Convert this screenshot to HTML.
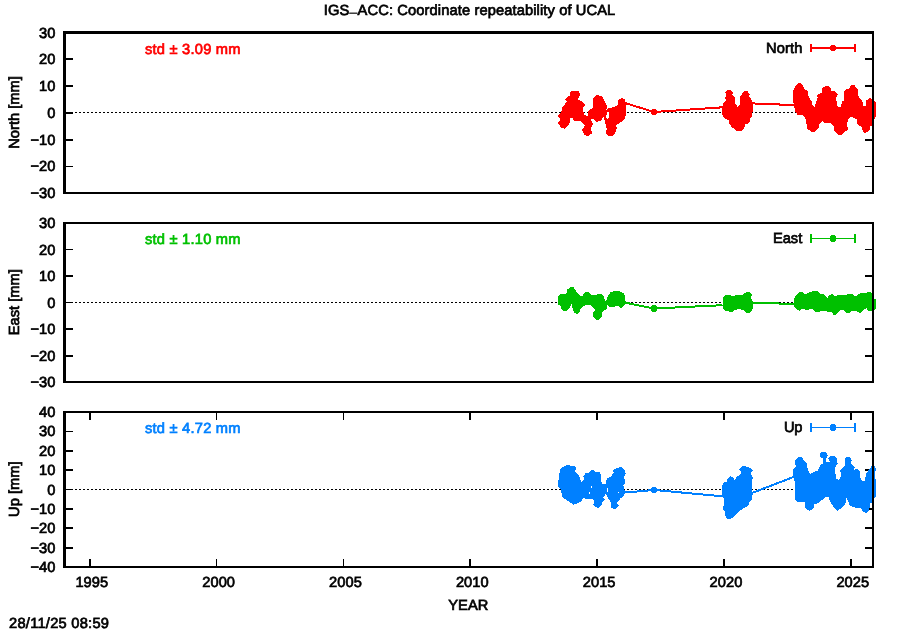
<!DOCTYPE html>
<html><head><meta charset="utf-8"><title>IGS-ACC: Coordinate repeatability of UCAL</title>
<style>
html,body{margin:0;padding:0;background:#fff;}
svg{display:block;will-change:transform}
text{font-family:"Liberation Sans",sans-serif;font-size:14.67px;fill:#000;stroke:#000;stroke-width:0.7px;text-rendering:geometricPrecision}
.c{shape-rendering:crispEdges}
</style></head><body>
<svg width="900" height="630" viewBox="0 0 900 630">
<rect width="900" height="630" fill="#fff"/>
<text x="469.5" y="15.3" text-anchor="middle" textLength="291.5" lengthAdjust="spacing">IGS<tspan dy="1.2" style="stroke-width:0.2px">–</tspan><tspan dy="-1.2">ACC: Coordinate repeatability of UCAL</tspan></text>
<g id="panel1">
<rect class="c" x="66" y="58" width="7" height="2" fill="#000"/><rect class="c" x="865" y="58" width="7" height="2" fill="#000"/>
<rect class="c" x="66" y="85" width="7" height="2" fill="#000"/><rect class="c" x="865" y="85" width="7" height="2" fill="#000"/>
<rect class="c" x="66" y="112" width="7" height="2" fill="#000"/><rect class="c" x="865" y="112" width="7" height="2" fill="#000"/>
<rect class="c" x="66" y="139" width="7" height="2" fill="#000"/><rect class="c" x="865" y="139" width="7" height="2" fill="#000"/>
<rect class="c" x="66" y="166" width="7" height="1" fill="#000"/><rect class="c" x="865" y="166" width="7" height="1" fill="#000"/>
<line class="c" x1="75" x2="873.0" y1="112.5" y2="112.5" stroke="#000" stroke-width="1" stroke-dasharray="2 2"/>
<polyline class="c" points="625.6,103.2 654.0,112.0 722.5,107.3" fill="none" stroke="#ff0000" stroke-width="2"/>
<polyline class="c" points="752.5,103.4 794.0,105.1" fill="none" stroke="#ff0000" stroke-width="2"/>
<polygon class="c" points="571.2,91.3 578.6,91.3 580.1,94.6 578.1,99.4 582.9,102.0 585.0,105.1 582.5,108.1 584.3,115.1 587.8,116.0 587.8,111.2 592.6,108.1 593.0,98.1 596.5,95.0 601.3,95.9 603.7,99.0 606.8,105.1 606.8,109.0 605.5,110.8 608.1,108.6 615.1,106.4 618.1,104.7 618.1,100.3 621.6,98.1 624.7,99.4 625.6,102.0 626.0,106.0 625.6,110.3 626.0,114.7 624.3,119.5 619.0,123.4 616.0,125.2 616.8,127.8 615.1,133.0 612.0,136.1 608.1,135.7 605.9,133.0 606.8,128.7 605.9,125.2 604.2,118.2 603.3,117.3 600.2,121.2 596.7,121.7 593.4,118.6 590.8,119.1 593.0,124.3 590.8,127.8 592.1,133.0 588.6,136.1 584.7,135.2 583.0,132.2 582.1,129.5 585.1,125.6 580.8,120.8 573.8,120.8 572.5,118.2 569.8,118.6 569.4,124.7 565.0,128.7 561.5,128.2 558.0,123.0 560.2,119.5 558.0,116.0 561.5,111.2 562.0,107.7 564.2,105.1 567.2,101.2 565.0,99.8 567.2,97.2 570.7,95.0 569.8,93.3" fill="#ff0000"/>
<polygon class="c" points="727.2,90.1 731.2,90.1 732.9,92.9 732.0,94.6 734.7,97.2 734.7,103.3 736.0,104.2 737.3,106.8 739.9,104.2 740.3,96.4 743.4,91.6 747.3,91.1 749.9,94.2 748.6,95.9 752.1,100.3 753.0,105.1 752.7,111.2 751.7,117.3 749.9,118.6 749.9,121.7 747.8,123.9 745.1,124.3 744.3,127.8 742.1,130.9 736.4,130.9 731.6,126.9 729.0,123.0 728.5,120.4 723.3,117.3 722.0,112.9 722.2,107.3 723.3,102.9 726.4,100.3 725.0,97.7 726.8,95.0 725.0,92.9" fill="#ff0000"/>
<polygon class="c" points="795.5,112.1 793.9,105.9 792.9,99.2 792.9,91.5 795.5,85.8 799.1,82.7 801.6,83.8 804.2,88.4 807.8,91.5 808.9,97.7 812.0,101.8 812.0,104.9 814.5,107.0 817.6,98.2 817.3,95.1 822.3,92.5 822.3,88.4 825.4,85.8 829.3,86.3 830.8,88.4 831.1,91.5 834.7,91.0 837.8,94.4 836.1,97.2 837.0,104.9 838.4,107.0 841.0,106.4 842.0,101.3 844.1,100.8 844.1,91.0 846.1,88.9 849.2,88.4 850.8,85.3 854.4,85.3 858.0,89.9 858.5,96.1 862.6,101.8 863.4,105.9 865.7,106.4 866.2,100.3 869.8,98.2 873.5,99.2 875.7,102.8 876.0,115.2 875.0,118.8 873.0,118.8 873.0,118.8 872.6,125.5 870.4,126.0 870.4,129.1 867.8,132.2 864.7,132.7 862.6,130.7 861.6,127.1 857.5,124.0 856.4,118.8 853.4,118.3 851.8,116.8 849.2,117.8 847.2,122.4 847.7,129.6 841.5,134.8 837.8,134.8 833.7,130.7 833.7,126.5 830.3,122.9 825.4,123.5 822.3,120.9 819.7,123.5 818.7,127.6 815.0,131.7 811.4,131.7 807.3,128.6 805.8,119.8 803.7,115.7 797.5,114.7" fill="#ff0000"/>
<polygon class="c" points="606.6,112.5 609.2,112.0 609.4,116.0 608.0,119.5 606.4,118.0" fill="#fff"/>
<polygon class="c" points="652.3,109.0 655.7,109.0 657.0,110.3 657.0,113.7 655.7,115.0 652.3,115.0 651.0,113.7 651.0,110.3" fill="#ff0000"/>
<rect class="c" x="63" y="31" width="3" height="163" fill="#000"/><rect class="c" x="872" y="31" width="2" height="163" fill="#000"/><rect class="c" x="63" y="31" width="811" height="3" fill="#000"/><rect class="c" x="63" y="192" width="811" height="2" fill="#000"/>
<text x="55.3" y="38.3" text-anchor="end">30</text><text x="55.3" y="64.3" text-anchor="end">20</text><text x="55.3" y="91.3" text-anchor="end">10</text><text x="55.3" y="118.3" text-anchor="end">0</text><text x="55.3" y="145.3" text-anchor="end">−10</text><text x="55.3" y="171.3" text-anchor="end">−20</text><text x="55.3" y="198.3" text-anchor="end">−30</text>
<text transform="translate(19.4,112.5) rotate(-90)" text-anchor="middle">North [mm]</text>
<text x="145" y="54.3" style="fill:#ff0000;stroke:#ff0000" textLength="95.5" lengthAdjust="spacing">std ± 3.09 mm</text>
<text x="802.3" y="53.3" text-anchor="end" textLength="36.2" lengthAdjust="spacing">North</text>
<rect class="c" x="810" y="47" width="46" height="2" fill="#ff0000"/><rect class="c" x="810" y="44" width="2" height="8" fill="#ff0000"/><rect class="c" x="854" y="44" width="2" height="8" fill="#ff0000"/><polygon class="c" points="831.3,45.0 834.7,45.0 836.0,46.3 836.0,49.7 834.7,51.0 831.3,51.0 830.0,49.7 830.0,46.3" fill="#ff0000"/>
</g>
<g id="panel2">
<rect class="c" x="66" y="249" width="7" height="1" fill="#000"/><rect class="c" x="865" y="249" width="7" height="1" fill="#000"/>
<rect class="c" x="66" y="275" width="7" height="2" fill="#000"/><rect class="c" x="865" y="275" width="7" height="2" fill="#000"/>
<rect class="c" x="66" y="302" width="7" height="1" fill="#000"/><rect class="c" x="865" y="302" width="7" height="1" fill="#000"/>
<rect class="c" x="66" y="328" width="7" height="2" fill="#000"/><rect class="c" x="865" y="328" width="7" height="2" fill="#000"/>
<rect class="c" x="66" y="355" width="7" height="2" fill="#000"/><rect class="c" x="865" y="355" width="7" height="2" fill="#000"/>
<line class="c" x1="75" x2="873.0" y1="302.5" y2="302.5" stroke="#000" stroke-width="1" stroke-dasharray="2 2"/>
<polyline class="c" points="625.0,302.6 654.0,308.5 722.5,305.2" fill="none" stroke="#00c000" stroke-width="2"/>
<polyline class="c" points="752.5,302.7 794.5,304.0" fill="none" stroke="#00c000" stroke-width="2"/>
<polygon class="c" points="558.0,296.5 561.0,294.0 565.0,294.0 567.0,292.5 567.5,289.5 570.5,287.0 573.5,287.5 576.0,290.5 576.5,292.5 581.0,296.0 582.5,296.0 584.5,292.5 588.5,292.2 591.0,295.0 596.5,295.0 598.0,294.0 601.0,294.0 604.0,296.5 605.0,301.0 606.5,300.0 607.5,296.5 610.5,292.5 614.0,291.0 619.0,291.0 623.5,293.0 625.0,295.5 625.0,301.0 627.5,303.0 624.0,305.0 622.0,307.5 620.0,307.5 618.0,305.5 614.0,307.0 609.0,306.5 607.0,305.0 606.5,309.0 602.5,312.0 602.0,316.0 599.0,319.5 596.0,319.5 593.0,316.0 593.0,312.5 595.0,310.5 594.0,308.0 590.0,305.0 586.5,305.0 583.5,306.0 580.0,309.5 579.5,312.5 577.5,313.8 574.5,313.0 573.0,310.0 571.5,304.0 569.5,308.0 566.5,311.0 563.5,310.8 561.0,308.5 560.5,306.0 558.0,304.5" fill="#00c000"/>
<polygon class="c" points="722.5,304.0 723.0,298.0 725.0,295.5 729.5,295.0 732.5,296.5 735.5,295.0 739.0,295.5 743.0,294.5 746.0,292.2 750.0,292.2 752.0,294.5 750.5,297.5 753.0,301.5 753.0,307.5 751.5,310.5 749.5,312.8 746.0,312.8 743.5,310.0 739.0,309.0 735.0,310.0 732.5,311.8 729.5,311.8 728.0,310.5 724.5,310.5 722.5,308.5" fill="#00c000"/>
<polygon class="c" points="794.0,304.0 794.2,298.5 796.5,295.0 799.5,292.0 802.5,292.0 804.5,294.5 808.0,293.0 813.5,291.0 817.5,291.2 820.0,293.5 824.0,294.0 827.5,298.0 829.5,295.0 832.5,294.0 835.0,296.0 838.0,295.0 846.0,295.0 848.0,294.0 852.5,294.0 855.5,296.5 860.0,293.2 866.0,293.2 868.5,292.0 871.0,292.2 872.5,295.0 874.5,298.5 876.0,300.0 876.0,308.5 874.5,309.5 872.0,310.5 868.0,310.5 866.5,308.0 863.5,309.5 861.0,312.5 859.0,312.8 856.5,311.0 851.0,311.5 849.5,312.8 846.5,312.8 843.0,310.0 841.5,309.5 839.0,311.5 836.0,314.5 833.5,314.8 831.0,311.5 826.5,311.5 824.0,310.5 820.0,311.5 814.5,311.5 811.5,308.5 808.5,309.5 805.0,309.5 802.5,308.5 799.5,310.5 797.5,310.2 794.0,307.0" fill="#00c000"/>
<polygon class="c" points="652.3,305.0 655.7,305.0 657.0,306.3 657.0,310.7 655.7,312.0 652.3,312.0 651.0,310.7 651.0,306.3" fill="#00c000"/>
<rect class="c" x="63" y="222" width="3" height="161" fill="#000"/><rect class="c" x="872" y="222" width="2" height="161" fill="#000"/><rect class="c" x="63" y="222" width="811" height="2" fill="#000"/><rect class="c" x="63" y="381" width="811" height="2" fill="#000"/>
<text x="55.3" y="228.3" text-anchor="end">30</text><text x="55.3" y="255.3" text-anchor="end">20</text><text x="55.3" y="281.3" text-anchor="end">10</text><text x="55.3" y="308.3" text-anchor="end">0</text><text x="55.3" y="334.3" text-anchor="end">−10</text><text x="55.3" y="361.3" text-anchor="end">−20</text><text x="55.3" y="387.3" text-anchor="end">−30</text>
<text transform="translate(19.4,302.2) rotate(-90)" text-anchor="middle">East [mm]</text>
<text x="145" y="244.3" style="fill:#00c000;stroke:#00c000" textLength="95.5" lengthAdjust="spacing">std ± 1.10 mm</text>
<text x="802.3" y="243.3" text-anchor="end" textLength="29.4" lengthAdjust="spacing">East</text>
<rect class="c" x="810" y="238" width="46" height="1" fill="#00c000"/><rect class="c" x="810" y="234" width="2" height="9" fill="#00c000"/><rect class="c" x="854" y="234" width="2" height="9" fill="#00c000"/><polygon class="c" points="831.3,235.0 834.7,235.0 836.0,236.3 836.0,240.7 834.7,242.0 831.3,242.0 830.0,240.7 830.0,236.3" fill="#00c000"/>
</g>
<g id="panel3">
<rect class="c" x="66" y="431" width="7" height="1" fill="#000"/><rect class="c" x="865" y="431" width="7" height="1" fill="#000"/>
<rect class="c" x="66" y="450" width="7" height="2" fill="#000"/><rect class="c" x="865" y="450" width="7" height="2" fill="#000"/>
<rect class="c" x="66" y="469" width="7" height="2" fill="#000"/><rect class="c" x="865" y="469" width="7" height="2" fill="#000"/>
<rect class="c" x="66" y="489" width="7" height="1" fill="#000"/><rect class="c" x="865" y="489" width="7" height="1" fill="#000"/>
<rect class="c" x="66" y="508" width="7" height="2" fill="#000"/><rect class="c" x="865" y="508" width="7" height="2" fill="#000"/>
<rect class="c" x="66" y="527" width="7" height="2" fill="#000"/><rect class="c" x="865" y="527" width="7" height="2" fill="#000"/>
<rect class="c" x="66" y="547" width="7" height="2" fill="#000"/><rect class="c" x="865" y="547" width="7" height="2" fill="#000"/>
<rect class="c" x="89" y="413" width="2" height="7" fill="#000"/><rect class="c" x="89" y="559" width="2" height="7" fill="#000"/>
<rect class="c" x="216" y="413" width="1" height="7" fill="#000"/><rect class="c" x="216" y="559" width="1" height="7" fill="#000"/>
<rect class="c" x="343" y="413" width="1" height="7" fill="#000"/><rect class="c" x="343" y="559" width="1" height="7" fill="#000"/>
<rect class="c" x="469" y="413" width="2" height="7" fill="#000"/><rect class="c" x="469" y="559" width="2" height="7" fill="#000"/>
<rect class="c" x="596" y="413" width="2" height="7" fill="#000"/><rect class="c" x="596" y="559" width="2" height="7" fill="#000"/>
<rect class="c" x="723" y="413" width="2" height="7" fill="#000"/><rect class="c" x="723" y="559" width="2" height="7" fill="#000"/>
<rect class="c" x="850" y="413" width="2" height="7" fill="#000"/><rect class="c" x="850" y="559" width="2" height="7" fill="#000"/>
<line class="c" x1="75" x2="873.0" y1="489.5" y2="489.5" stroke="#000" stroke-width="1" stroke-dasharray="2 2"/>
<polyline class="c" points="624.0,492.6 654.0,490.0 723.0,496.3" fill="none" stroke="#0080ff" stroke-width="2"/>
<polyline class="c" points="752.0,493.0 794.5,476.6" fill="none" stroke="#0080ff" stroke-width="2"/>
<polygon class="c" points="558.0,485.6 558.9,476.7 560.0,470.0 563.3,466.7 567.2,465.0 574.4,466.1 576.7,468.9 575.0,471.1 578.9,475.6 580.6,480.0 580.6,482.8 584.4,479.4 583.3,476.1 585.6,473.3 588.9,472.8 591.7,470.2 594.4,470.6 596.1,472.2 599.4,472.2 601.7,475.0 600.6,477.8 601.7,483.3 605.6,484.4 606.7,478.9 610.6,476.7 613.9,472.8 612.8,470.6 616.7,467.8 621.7,467.2 625.0,470.0 625.6,473.9 623.9,476.7 625.6,482.2 623.3,485.6 625.0,491.7 623.9,495.6 620.6,498.3 616.7,503.3 618.9,505.6 616.7,508.3 613.9,509.8 610.6,506.7 611.7,503.9 609.4,500.0 605.6,493.9 603.3,497.8 605.0,500.0 602.2,502.2 601.7,505.0 598.3,507.8 595.0,507.2 593.3,504.4 594.4,501.1 592.8,499.4 586.7,498.9 582.8,497.8 582.2,500.6 576.7,503.9 573.3,504.8 569.4,501.7 565.6,499.4 562.2,496.7 561.1,490.0 558.3,487.2" fill="#0080ff"/>
<polygon class="c" points="722.2,485.0 724.4,482.2 727.2,481.7 727.2,478.9 730.0,476.3 732.8,477.2 734.4,480.0 736.7,477.2 741.7,472.8 739.4,469.4 742.8,466.1 748.9,467.0 752.8,470.6 750.6,473.3 752.8,477.2 751.7,485.0 752.8,493.9 751.7,499.4 748.9,502.8 748.3,505.6 743.3,508.3 738.3,512.2 735.0,516.1 730.6,518.9 727.2,518.6 725.0,515.6 725.6,511.7 723.3,509.4 723.9,499.4 722.2,493.9" fill="#0080ff"/>
<polygon class="c" points="795.1,499.8 795.1,483.1 793.3,477.1 793.3,469.4 795.7,467.0 795.1,460.5 798.7,456.9 801.7,457.5 806.4,462.9 807.6,468.8 810.0,474.2 813.0,472.4 817.7,470.6 820.1,465.2 823.1,463.5 823.1,458.7 819.9,456.3 820.4,453.4 822.0,452.1 825.2,452.1 827.0,453.4 827.8,456.0 825.9,458.7 825.5,461.7 830.2,461.7 827.9,458.7 831.4,455.5 834.3,455.5 836.9,458.7 837.6,464.0 835.2,467.0 835.7,478.0 839.0,480.4 841.2,476.0 840.2,470.6 844.3,466.4 845.5,462.9 844.3,459.9 846.7,456.9 850.2,457.1 852.0,460.5 850.8,462.9 855.0,467.6 853.2,470.0 856.8,468.8 859.8,471.8 859.8,476.5 862.1,480.7 864.5,480.7 866.3,473.6 869.9,468.2 871.7,466.2 875.2,466.4 875.8,470.0 874.6,473.0 875.8,480.7 875.8,496.2 874.0,498.6 874.0,498.6 872.9,502.1 869.9,503.3 869.3,510.5 866.3,512.9 862.7,511.7 861.0,508.1 855.0,507.5 849.6,505.7 848.5,502.1 846.7,497.4 845.3,503.8 842.0,508.1 837.2,510.7 833.7,506.9 830.2,501.8 828.5,496.8 824.9,497.4 818.3,503.3 814.2,503.9 814.2,506.9 811.8,510.2 808.8,510.7 805.2,507.5 804.6,502.1 797.5,501.5" fill="#0080ff"/>
<polygon class="c" points="590.6,485.8 591.8,485.8 591.8,488.2 590.6,488.2" fill="#fff"/>
<polygon class="c" points="589.0,492.0 590.2,492.0 590.2,493.6 589.0,493.6" fill="#fff"/>
<polygon class="c" points="606.7,487.5 607.9,487.5 607.9,491.5 606.7,491.5" fill="#fff"/>
<polygon class="c" points="617.8,491.6 619.0,491.6 619.0,493.0 617.8,493.0" fill="#fff"/>
<polygon class="c" points="652.3,487.0 655.7,487.0 657.0,488.3 657.0,491.7 655.7,493.0 652.3,493.0 651.0,491.7 651.0,488.3" fill="#0080ff"/>
<rect class="c" x="63" y="411" width="3" height="157" fill="#000"/><rect class="c" x="872" y="411" width="2" height="157" fill="#000"/><rect class="c" x="63" y="411" width="811" height="2" fill="#000"/><rect class="c" x="63" y="566" width="811" height="2" fill="#000"/>
<text x="55.3" y="417.3" text-anchor="end">40</text><text x="55.3" y="436.3" text-anchor="end">30</text><text x="55.3" y="456.3" text-anchor="end">20</text><text x="55.3" y="475.3" text-anchor="end">10</text><text x="55.3" y="495.3" text-anchor="end">0</text><text x="55.3" y="514.3" text-anchor="end">−10</text><text x="55.3" y="533.3" text-anchor="end">−20</text><text x="55.3" y="553.3" text-anchor="end">−30</text><text x="55.3" y="572.3" text-anchor="end">−40</text>
<text transform="translate(19.4,489.2) rotate(-90)" text-anchor="middle">Up [mm]</text>
<text x="145" y="433.3" style="fill:#0080ff;stroke:#0080ff" textLength="95.5" lengthAdjust="spacing">std ± 4.72 mm</text>
<text x="802.3" y="432.3" text-anchor="end" textLength="18.2" lengthAdjust="spacing">Up</text>
<rect class="c" x="810" y="427" width="46" height="1" fill="#0080ff"/><rect class="c" x="810" y="423" width="2" height="9" fill="#0080ff"/><rect class="c" x="854" y="423" width="2" height="9" fill="#0080ff"/><polygon class="c" points="831.3,424.0 834.7,424.0 836.0,425.3 836.0,429.7 834.7,431.0 831.3,431.0 830.0,429.7 830.0,425.3" fill="#0080ff"/>
</g>
<text x="91.8" y="587.3" text-anchor="middle" textLength="32.8" lengthAdjust="spacing">1995</text><text x="218.6" y="587.3" text-anchor="middle" textLength="32.8" lengthAdjust="spacing">2000</text><text x="345.5" y="587.3" text-anchor="middle" textLength="32.8" lengthAdjust="spacing">2005</text><text x="472.3" y="587.3" text-anchor="middle" textLength="32.8" lengthAdjust="spacing">2010</text><text x="599.1" y="587.3" text-anchor="middle" textLength="32.8" lengthAdjust="spacing">2015</text><text x="726.0" y="587.3" text-anchor="middle" textLength="32.8" lengthAdjust="spacing">2020</text><text x="852.8" y="587.3" text-anchor="middle" textLength="32.8" lengthAdjust="spacing">2025</text>
<text x="468.3" y="610" text-anchor="middle">YEAR</text>
<text x="9" y="628" textLength="100" lengthAdjust="spacing">28/11/25 08:59</text>
</svg></body></html>
